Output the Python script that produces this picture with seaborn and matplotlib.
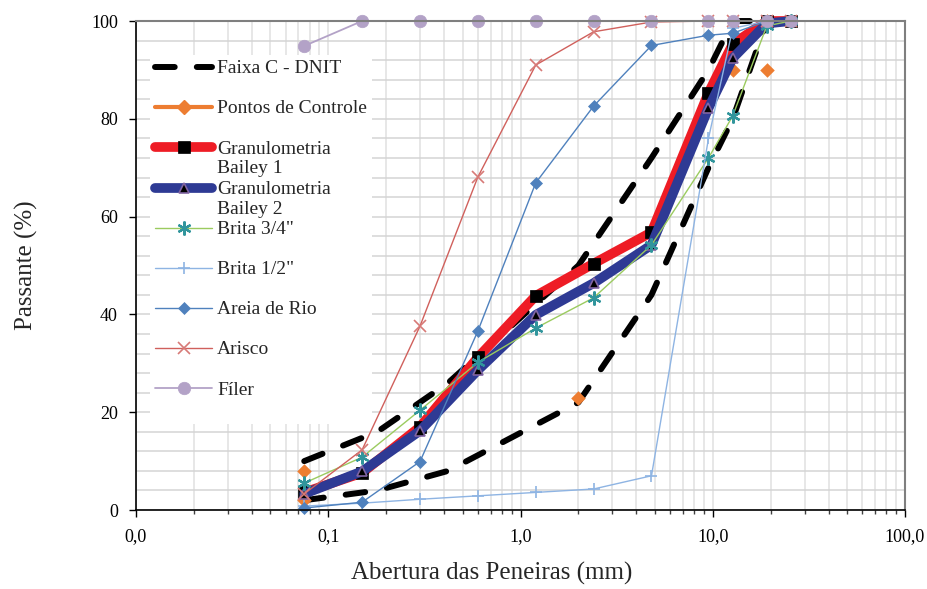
import numpy as np
import matplotlib.pyplot as plt
import seaborn as sns
from matplotlib.lines import Line2D
from matplotlib.offsetbox import HPacker
from matplotlib.ticker import FuncFormatter, MultipleLocator, LogLocator, NullFormatter

# aberturas das peneiras (mm)
peneiras = [0.075, 0.15, 0.3, 0.6, 1.2, 2.4, 4.8, 9.5, 12.7, 19.1, 25.4]

# faixa C do DNIT (limites)
faixa_x = [0.075, 0.18, 0.42, 2.0, 4.8, 9.5, 12.7, 19.1]
faixa_sup = [10, 16, 26, 50, 72, 90, 100, 100]
faixa_inf = [2, 4, 8, 22, 44, 70, 80, 100]

# pontos de controle
controle_x = [0.075, 0.075, 2.0, 12.7, 19.1, 19.1, 25.4]
controle_y = [2, 8, 23, 90, 90, 100, 100]

bailey_1 = [3.6, 7.6, 17.0, 31.2, 43.8, 50.4, 56.8, 85.3, 95.3, 100, 100]
bailey_2 = [3.3, 7.9, 16.2, 28.6, 39.9, 46.4, 54.2, 82.2, 92.4, 99.5, 100]
brita_34 = [5.5, 10.8, 20.4, 30.2, 37.2, 43.4, 54.2, 72.0, 80.6, 99.0, 100]
brita_12 = [0.8, 1.4, 2.2, 2.9, 3.6, 4.3, 7.0, 76.0, 98.5, 100, 100]
areia = [0.4, 1.6, 9.9, 36.6, 66.9, 82.6, 95.0, 97.1, 97.5, 100, 100]
arisco = [3.3, 12.3, 37.6, 68.1, 91.0, 97.8, 99.8, 100, 100, 100, 100]
filer = [94.9, 100, 100, 100, 100, 100, 100, 100, 100, 100, 100]

rotulos = [
    "Faixa C - DNIT\n",
    "Pontos de Controle\n",
    "Granulometria\nBailey 1",
    "Granulometria\nBailey 2",
    "Brita 3/4\"\n",
    "Brita 1/2\"\n",
    "Areia de Rio\n",
    "Arisco\n",
    "Fíler\n",
]

sns.set_theme(style="white")
plt.rcParams["font.family"] = ["Liberation Serif", "DejaVu Serif"]

fig, ax = plt.subplots(figsize=(9.27, 5.89), dpi=100)
fig.subplots_adjust(left=0.1467, right=0.9763, bottom=0.1341, top=0.9643)
ax.set_xscale("log")

comum = dict(ax=ax, estimator=None, errorbar=None, clip_on=False)
tracejado = (0, (3.3, 3.7))

sns.lineplot(x=faixa_x, y=faixa_sup, color="black", lw=4.3, linestyle=tracejado,
             dash_capstyle="round", label="faixa", **comum)
sns.lineplot(x=faixa_x, y=faixa_inf, color="black", lw=4.3, linestyle=tracejado,
             dash_capstyle="round", label="_faixa_inf", **comum)

laranja = "#ED7D31"
sns.scatterplot(x=controle_x, y=controle_y, ax=ax, marker="D", s=55, color=laranja,
                edgecolor=laranja, linewidth=0, label="controle", zorder=2, clip_on=False)

sns.lineplot(x=peneiras, y=bailey_1, color="#EE1C25", lw=7, marker="s", ms=8,
             mfc="black", mec="black", mew=0.5, label="b1", **comum)
sns.lineplot(x=peneiras, y=bailey_2, color="#2E3A94", lw=7, marker="^", ms=7.5,
             mfc="black", mec="#8064A2", mew=1.2, label="b2", **comum)
sns.lineplot(x=peneiras, y=brita_34, color="#9BCB5F", lw=1, marker=(6, 2, 0), ms=10,
             mec="#31959C", mew=1.6, label="b34", **comum)
sns.lineplot(x=peneiras, y=brita_12, color="#8EB4E3", lw=1, marker="+", ms=9,
             mec="#8EB4E3", mew=1.2, label="b12", **comum)
sns.lineplot(x=peneiras, y=areia, color="#4F81BD", lw=1, marker="D", ms=6.5,
             mfc="#4F81BD", mec="#4F81BD", mew=0.5, label="areia", **comum)
sns.lineplot(x=peneiras, y=arisco, color="#D0605C", lw=1, marker="x", ms=8,
             mec="#D77A77", mew=1.2, label="arisco", **comum)
sns.lineplot(x=peneiras, y=filer, color="#B3A2C7", lw=1.3, marker="o", ms=9,
             mfc="#B3A2C7", mec="#B3A2C7", mew=0.5, label="filer", **comum)

ax.set_xlim(0.01, 100)
ax.set_ylim(0, 100)

ax.xaxis.set_major_locator(LogLocator(base=10))
ax.xaxis.set_minor_locator(LogLocator(base=10, subs=np.arange(2, 10)))
ax.xaxis.set_major_formatter(FuncFormatter(lambda v, p: f"{v:.1f}".replace(".", ",")))
ax.xaxis.set_minor_formatter(NullFormatter())
ax.yaxis.set_major_locator(MultipleLocator(20))
ax.yaxis.set_minor_locator(MultipleLocator(4))

ax.set_axisbelow(True)
ax.grid(True, axis="x", which="both", color="#E0E0E0", lw=1.1)
ax.grid(True, axis="y", which="both", color="#D4D4D4", lw=1.1)

ax.tick_params(axis="both", which="major", direction="out", length=5, width=1,
               color="black", pad=8, labelsize=13, labelcolor="black",
               bottom=True, left=True)
ax.tick_params(axis="x", which="minor", direction="out", length=3, width=1,
               color="#404040", bottom=True)
ax.tick_params(axis="y", which="minor", length=0)

for lado in ["left", "bottom"]:
    ax.spines[lado].set_color("black")
    ax.spines[lado].set_linewidth(1.2)
for lado in ["top", "right"]:
    ax.spines[lado].set_color("#7F7F7F")
    ax.spines[lado].set_linewidth(1.5)

ax.set_xlabel("Abertura das Peneiras (mm)", fontsize=18)
ax.set_ylabel("Passante (%)", fontsize=18)
ax.xaxis.set_label_coords(0.463, -0.106)
ax.yaxis.set_label_coords(-0.128, 0.5)

handles, labels = ax.get_legend_handles_labels()
handles[1] = Line2D([], [], color=laranja, lw=3, marker="D", ms=7, mfc=laranja, mec=laranja)

leg = ax.legend(handles, rotulos, loc="upper left", bbox_to_anchor=(0.0182, 0.9305),
                borderaxespad=0, borderpad=0.27, labelspacing=0.17, handlelength=2.93,
                handletextpad=0.26, fontsize=14, frameon=True, fancybox=False,
                framealpha=1, facecolor="white", edgecolor="none")
for t in leg.get_texts():
    t.set_linespacing(1.22)
for caixa in leg.findobj(HPacker):
    caixa.align = "top"

plt.savefig("out.png", dpi=100)
